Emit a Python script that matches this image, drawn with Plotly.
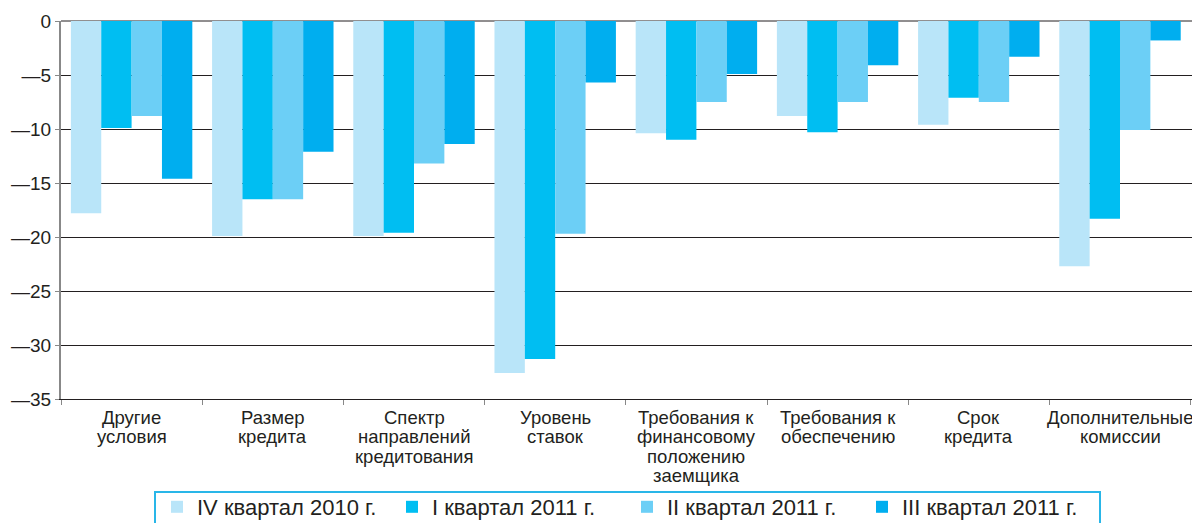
import plotly.graph_objects as go

categories = [
    "Другие<br>условия",
    "Размер<br>кредита",
    "Спектр<br>направлений<br>кредитования",
    "Уровень<br>ставок",
    "Требования к<br>финансовому<br>положению<br>заемщика",
    "Требования к<br>обеспечению",
    "Срок<br>кредита",
    "Дополнительные<br>комиссии",
]

series_names = ["IV квартал 2010 г.", "I квартал 2011 г.", "II квартал 2011 г.", "III квартал 2011 г."]

q4_2010 = [-17.8, -19.9, -19.9, -32.6, -10.4, -8.8, -9.6, -22.7]
q1_2011 = [-9.9, -16.5, -19.6, -31.3, -11.0, -10.3, -7.1, -18.3]
q2_2011 = [-8.8, -16.5, -13.2, -19.7, -7.5, -7.5, -7.5, -10.1]
q3_2011 = [-14.6, -12.1, -11.4, -5.7, -4.9, -4.1, -3.3, -1.8]

colors = ["#B9E5F9", "#00BEF2", "#6CCFF6", "#00AEEF"]

y_tickvals = [0, -5, -10, -15, -20, -25, -30, -35]
y_ticktext = ["0", "—5", "—10", "—15", "—20", "—25", "—30", "—35"]

FONT = "Liberation Sans, Arial, sans-serif"
TEXT = "#231F20"

# page body has an 8px margin: figure is sized so that it fits in the window
W, H = 1192, 515
L, T, R, B = 53, 13, 5, 124
plot_w = W - L - R
plot_h = H - T - B
plot_bottom = T + plot_h

def px_x(x):
    return (x - L) / plot_w

def px_y(y):
    return (plot_bottom - y) / plot_h

fig = go.Figure()
for name, vals, col in zip(series_names, [q4_2010, q1_2011, q2_2011, q3_2011], colors):
    fig.add_trace(go.Bar(x=categories, y=vals, name=name, marker=dict(color=col, line=dict(width=0))))

fig.update_layout(
    width=W, height=H,
    margin=dict(l=L, r=R, t=T, b=B, autoexpand=False),
    plot_bgcolor="white", paper_bgcolor="white",
    barmode="group", bargap=0.14, bargroupgap=0,
    font=dict(family=FONT, color=TEXT),
    showlegend=True,
    legend=dict(
        orientation="h", x=px_x(149), xanchor="left",
        y=px_y(478), yanchor="top",
        borderwidth=0, bgcolor="rgba(0,0,0,0)",
        font=dict(size=22, family=FONT, color=TEXT),
        entrywidth=190, entrywidthmode="pixels",
    ),
    xaxis=dict(
        showline=True, linecolor=TEXT, linewidth=1,
        ticks="outside", tickson="boundaries", ticklen=5, tickcolor="#888888",
        showticklabels=False,
        showgrid=False, automargin=False,
    ),
    yaxis=dict(
        range=[-35, 0], tickvals=y_tickvals, ticktext=y_ticktext,
        showgrid=True, gridcolor=TEXT, gridwidth=1,
        zeroline=False, automargin=False,
        showline=True, linecolor="#888888", linewidth=2,
        ticks="outside", ticklen=4, tickcolor="#888888",
        tickfont=dict(size=19, family=FONT, color=TEXT),
    ),
)

# category labels with tight line spacing, as in the reference
LINE_H = 19.3
for cat in categories:
    for i, line in enumerate(cat.split("<br>")):
        fig.add_annotation(
            x=cat, xref="x", y=0, yref="paper", yanchor="top",
            text=line, showarrow=False, yshift=-(6 + i * LINE_H),
            font=dict(size=18.5, family=FONT, color=TEXT),
        )

# legend frame (runs off the bottom edge, as in the reference)
fig.add_shape(type="rect", xref="paper", yref="paper",
              x0=px_x(147), x1=px_x(1092), y0=px_y(540), y1=px_y(484),
              line=dict(color="#29B6E8", width=2), fillcolor="rgba(0,0,0,0)")

# right border line of the plot area and top line
fig.add_shape(type="line", xref="paper", yref="paper", x0=1, x1=1, y0=0, y1=1,
              line=dict(color="#888888", width=2))
fig.add_shape(type="line", xref="paper", yref="paper", x0=0, x1=1, y0=1, y1=1,
              line=dict(color=TEXT, width=1), layer="below")

fig.write_html("out.html")
